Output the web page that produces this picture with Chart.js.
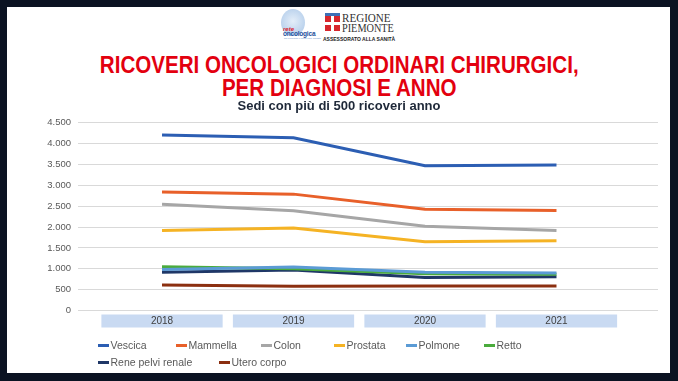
<!DOCTYPE html>
<html><head><meta charset="utf-8">
<script src="https://cdn.jsdelivr.net/npm/chart.js@4.4.0/dist/chart.umd.min.js"></script>
<style>
html,body{margin:0;padding:0;width:678px;height:381px;overflow:hidden;background:#0b1322;}
#panel{position:absolute;left:7px;top:7px;width:663px;height:366px;background:#fff;}
#wrap{position:absolute;left:0;top:0;width:678px;height:381px;}
#logo1{position:absolute;left:281px;top:9px;width:24px;height:27px;border-radius:50%;background:radial-gradient(circle at 50% 45%,#e4eef9 0%,#b9d1ec 70%,#9cbce2 100%);}
.lt{position:absolute;font-family:'Liberation Sans',Arial,sans-serif;white-space:nowrap;}
#flag{position:absolute;left:325px;top:13px;width:15px;height:18px;background:#d7262c;}
#flag .b{position:absolute;left:0;top:0;width:15px;height:3px;background:#3d6fb6;}
#flag .v{position:absolute;left:6px;top:3px;width:3px;height:15px;background:#fff;}
#flag .h{position:absolute;left:0;top:9px;width:15px;height:3px;background:#fff;}
.rp{position:absolute;font-family:'Liberation Serif','Times New Roman',serif;color:#333;transform-origin:0 0;transform:scaleX(0.82);white-space:nowrap;}
#title{position:absolute;left:0;top:52.5px;width:678px;text-align:center;font-family:'Liberation Sans',Arial,sans-serif;font-weight:bold;font-size:24px;line-height:23.5px;color:#e3000f;transform-origin:340.5px 0;transform:scaleX(0.857);white-space:nowrap;}
#legend{position:absolute;left:0;top:0;width:678px;height:381px;pointer-events:none;font-family:'Liberation Sans',Arial,sans-serif;font-size:10.5px;color:#595959;}
.li{position:absolute;height:14px;line-height:14px;white-space:nowrap;}
.li i{position:absolute;left:0;top:5.5px;width:11px;height:3px;}
.li span{position:absolute;left:12.5px;top:0;}
</style></head>
<body>
<div id="panel"></div>
<div id="logo1"></div>
<div class="lt" style="left:283px;top:26px;font-size:6px;font-weight:bold;font-style:italic;color:#d9232d;">rete</div>
<div class="lt" style="left:283px;top:30px;font-size:6.5px;font-weight:bold;color:#1d4f9c;letter-spacing:-0.2px;">oncologica</div>
<div class="lt" style="left:284px;top:37px;font-size:2.5px;color:#6a8fc8;">del piemonte e della valle d'aosta</div>
<div id="flag"><div class="b"></div><div class="v"></div><div class="h"></div></div>
<div class="rp" style="left:342px;top:10px;font-size:13.5px;">REGIONE</div>
<div class="rp" style="left:342px;top:21px;font-size:12.5px;">PIEMONTE</div>
<div class="lt" style="left:323px;top:36px;font-size:5px;font-weight:bold;color:#222;">ASSESSORATO ALLA SANITÀ</div>
<div id="title">RICOVERI ONCOLOGICI ORDINARI CHIRURGICI,<br>PER DIAGNOSI E ANNO</div>
<div id="wrap"><canvas id="c" width="678" height="381"></canvas></div>
<div id="legend"></div>
<script>
// ---- data ----
const years = [2018, 2019, 2020, 2021];
const yTickValues = [0, 500, 1000, 1500, 2000, 2500, 3000, 3500, 4000, 4500];
const seriesNames = ['Vescica', 'Mammella', 'Colon', 'Prostata', 'Polmone', 'Retto', 'Rene pelvi renale', 'Utero corpo'];
const vescica  = [4210, 4140, 3470, 3490];
const mammella = [2840, 2790, 2430, 2400];
const colon    = [2550, 2390, 2020, 1920];
const prostata = [1920, 1980, 1650, 1670];
const polmone  = [980, 1040, 920, 900];
const retto    = [1050, 1000, 880, 870];
const rene     = [920, 970, 790, 810];
const utero    = [610, 580, 590, 590];
const seriesValues = [vescica, mammella, colon, prostata, polmone, retto, rene, utero];

// ---- styles ----
const colors = ['#2c5eb3', '#e8602a', '#a6a6a6', '#f5b324', '#5b9bd5', '#4aab3c', '#1f3767', '#8b2f10'];
const legendPos = [[98,338],[176,338],[261,338],[334,338],[406,338],[484,338],[98,355],[219,355]];

const fmt = v => String(v).replace(/\B(?=(\d{3})+(?!\d))/g, '.');

const datasets = seriesNames.map((name, i) => ({
  label: name,
  data: years.map((yr, j) => ({ x: yr, y: seriesValues[i][j] })),
  borderColor: colors[i],
  backgroundColor: colors[i],
  borderWidth: 3,
  pointRadius: 0,
  tension: 0,
  fill: false,
  borderCapStyle: 'butt'
}));

const chart = new Chart(document.getElementById('c'), {
  type: 'line',
  data: { datasets },
  options: {
    responsive: false,
    animation: false,
    devicePixelRatio: 1,
    layout: { padding: { left: 20, right: 20, top: 98.2, bottom: 48.5 } },
    plugins: {
      legend: { display: false },
      tooltip: { enabled: false },
      title: { display: false },
      subtitle: {
        display: true,
        text: 'Sedi con più di 500 ricoveri anno',
        color: '#1e2838',
        font: { family: "'Liberation Sans',Arial,sans-serif", size: 13, weight: 'bold', lineHeight: 1.2 },
        padding: { top: 0, bottom: 9 }
      }
    },
    scales: {
      x: {
        type: 'linear',
        min: 2017.361,
        max: 2021.772,
        afterBuildTicks: s => { s.ticks = years.map(v => ({ value: v })); },
        ticks: {
          callback: v => String(v),
          color: '#404040',
          font: { family: "'Liberation Sans',Arial,sans-serif", size: 10 },
          padding: 5,
          maxRotation: 0,
          autoSkip: false,
          showLabelBackdrop: true,
          backdropColor: '#c9daf2',
          backdropPadding: { left: 49.5, right: 49.5, top: 1, bottom: 0 }
        },
        grid: { display: false, drawTicks: false },
        border: { display: false }
      },
      y: {
        min: 0,
        max: 4500,
        afterBuildTicks: s => { s.ticks = yTickValues.map(v => ({ value: v })); },
        afterFit: s => { s.width = 58; },
        ticks: {
          callback: v => fmt(v),
          color: '#595959',
          font: { family: "'Liberation Sans',Arial,sans-serif", size: 9.5 },
          padding: 7
        },
        grid: { color: '#d9d9d9', lineWidth: 1, drawTicks: false },
        border: { display: false }
      }
    }
  }
});

// HTML legend built from the chart's datasets
const leg = document.getElementById('legend');
chart.data.datasets.forEach((ds, i) => {
  const d = document.createElement('div');
  d.className = 'li';
  d.style.left = legendPos[i][0] + 'px';
  d.style.top = legendPos[i][1] + 'px';
  d.innerHTML = '<i style="background:' + ds.borderColor + '"></i><span></span>';
  d.querySelector('span').textContent = ds.label;
  leg.appendChild(d);
});
</script>
</body></html>
